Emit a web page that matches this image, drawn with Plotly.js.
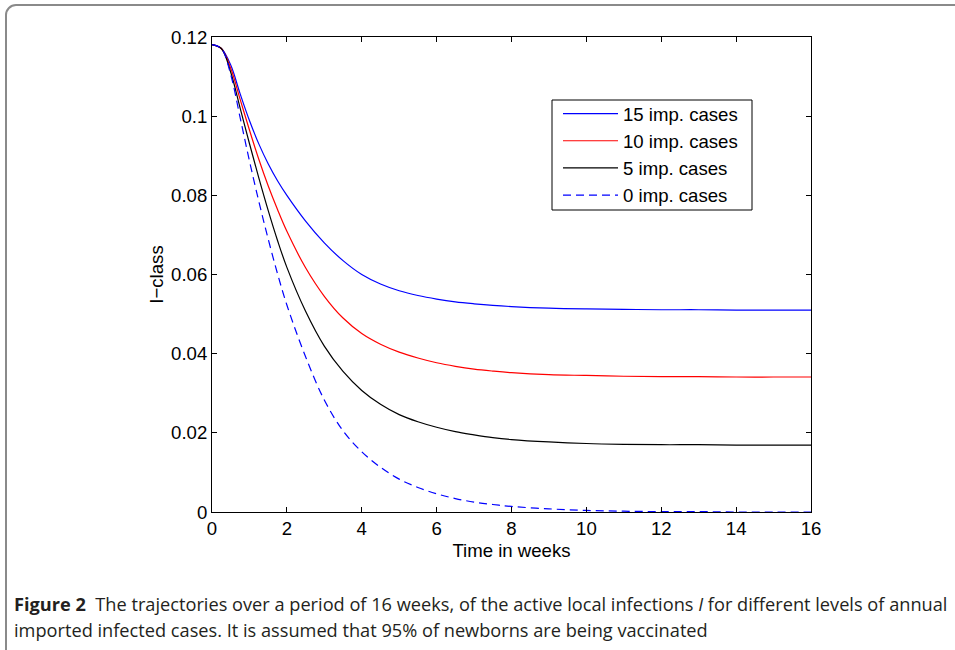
<!DOCTYPE html>
<html>
<head>
<meta charset="utf-8">
<script src="https://cdn.plot.ly/plotly-3.0.1.min.js"></script>
<style>
  html, body { margin: 0; padding: 0; background: #fff; }
  #wrap { position: relative; width: 955px; height: 650px; overflow: hidden; }
  #frame { position: absolute; left: 5px; top: 4px; width: 1000px; height: 700px;
           border: 2px solid #8a8a8a; border-radius: 11px; box-sizing: border-box; pointer-events: none; }
  #chart { position: absolute; left: 0; top: 0; width: 955px; height: 650px; }
</style>
</head>
<body>
<div id="wrap">
  <div id="chart"></div>
  <div id="frame"></div>
</div>
<script>
// Time in weeks
const weeks = [0, 0.25, 0.5, 0.75, 1, 1.25, 1.5, 1.75, 2, 2.5, 3, 3.5, 4, 4.5, 5, 5.5, 6, 6.5, 7, 7.5, 8, 9, 10, 11, 12, 13, 14, 15, 16];

// I-class trajectories for different numbers of annual imported cases
const imp15 = [0.1181, 0.1171, 0.1129, 0.1057, 0.0989, 0.0930, 0.0880, 0.0837, 0.0800, 0.0735, 0.0680, 0.0635, 0.0600, 0.0576, 0.0559, 0.0547, 0.0538, 0.0531, 0.0526, 0.0522, 0.0519, 0.0515, 0.0513, 0.0512, 0.0511, 0.0511, 0.0510, 0.0510, 0.0510];
const imp10 = [0.1181, 0.1171, 0.1121, 0.1043, 0.0965, 0.0891, 0.0824, 0.0764, 0.0709, 0.0617, 0.0545, 0.0490, 0.0451, 0.0424, 0.0404, 0.0389, 0.0377, 0.0368, 0.0361, 0.0356, 0.0352, 0.0347, 0.0345, 0.0343, 0.0342, 0.0342, 0.0341, 0.0341, 0.0341];
const imp5  = [0.1181, 0.1171, 0.1111, 0.1021, 0.0931, 0.0844, 0.0762, 0.0686, 0.0618, 0.0507, 0.0419, 0.0355, 0.0307, 0.0272, 0.0246, 0.0228, 0.0214, 0.0203, 0.0195, 0.0188, 0.0183, 0.0177, 0.0173, 0.0171, 0.0170, 0.0170, 0.0169, 0.0169, 0.0169];
const imp0  = [0.1181, 0.1171, 0.1105, 0.0997, 0.0887, 0.0785, 0.0690, 0.0602, 0.0523, 0.0392, 0.0283, 0.0205, 0.0152, 0.0113, 0.0083, 0.0062, 0.0046, 0.0034, 0.0025, 0.0019, 0.0014, 0.0008, 0.0004, 0.0002, 0.0001, 0.0001, 0, 0, 0];

const seriesNames = ['15 imp. cases', '10 imp. cases', '5 imp. cases', '0 imp. cases'];

const xTicks = [0, 2, 4, 6, 8, 10, 12, 14, 16];
const yTickVals = [0, 0.02, 0.04, 0.06, 0.08, 0.1, 0.12];
const yTickText = ['0', '0.02', '0.04', '0.06', '0.08', '0.1', '0.12'];

const captionLine1 = '<b>Figure 2</b>  The trajectories over a period of 16 weeks, of the active local infections <i>I</i> for different levels of annual';
const captionLine2 = 'imported infected cases. It is assumed that 95% of newborns are being vaccinated';

const font = 'Liberation Sans, Arial, sans-serif';
const fs = 18.6;

// pixel -> paper helpers for plot area (left 212, right 811, top 37, bottom 512)
const px = v => (v - 212) / 599;
const py = v => (512 - v) / 475;

const traces = [
  { x: weeks, y: imp15, name: seriesNames[0], mode: 'lines', line: { color: '#0000ff', width: 1.2 } },
  { x: weeks, y: imp10, name: seriesNames[1], mode: 'lines', line: { color: '#ff0000', width: 1.2 } },
  { x: weeks, y: imp5,  name: seriesNames[2], mode: 'lines', line: { color: '#000000', width: 1.2 } },
  { x: weeks, y: imp0,  name: seriesNames[3], mode: 'lines', line: { color: '#0000ff', width: 1.2, dash: '8px,5px' } }
].map(t => Object.assign(t, { line: Object.assign({ shape: 'spline', smoothing: 1 }, t.line) }));

const axisCommon = {
  showgrid: false, zeroline: false, showline: true, linecolor: '#000', linewidth: 1,
  mirror: 'ticks', ticks: 'inside', ticklen: 5, tickcolor: '#000', tickwidth: 1,
  tickfont: { family: font, size: fs, color: '#000' }
};

const layout = {
  width: 955, height: 650,
  margin: { l: 212, r: 144, t: 37, b: 138 },
  paper_bgcolor: '#fff', plot_bgcolor: '#fff',
  showlegend: true,
  legend: {
    x: px(558), y: py(95), xanchor: 'left', yanchor: 'top',
    borderwidth: 0, bgcolor: 'rgba(0,0,0,0)',
    font: { family: font, size: fs, color: '#000' },
    itemwidth: 55, tracegroupgap: 0
  },
  shapes: [
    { type: 'rect', xref: 'paper', yref: 'paper', x0: px(552), x1: px(752), y0: py(210), y1: py(100),
      line: { color: '#000', width: 1 }, fillcolor: '#fff', layer: 'above' }
  ],
  xaxis: Object.assign({}, axisCommon, {
    range: [0, 16], tickvals: xTicks,
    title: { text: 'Time in weeks', font: { family: font, size: fs, color: '#000' }, standoff: 5 }
  }),
  yaxis: Object.assign({}, axisCommon, {
    range: [0, 0.12], tickvals: yTickVals, ticktext: yTickText,
    title: { text: 'I\u2212class', font: { family: font, size: fs, color: '#000' }, standoff: 2 }
  }),
  annotations: [
    { text: captionLine1, xref: 'paper', yref: 'paper', x: px(12), y: py(604),
      xanchor: 'left', yanchor: 'middle', showarrow: false, align: 'left',
      font: { family: 'Open Sans, sans-serif', size: 18.2, color: '#231f20' } },
    { text: captionLine2, xref: 'paper', yref: 'paper', x: px(12), y: py(630),
      xanchor: 'left', yanchor: 'middle', showarrow: false, align: 'left',
      font: { family: 'Open Sans, sans-serif', size: 18.2, color: '#231f20' } }
  ]
};

Plotly.newPlot('chart', traces, layout, { staticPlot: true, displayModeBar: false });
</script>
</body>
</html>
